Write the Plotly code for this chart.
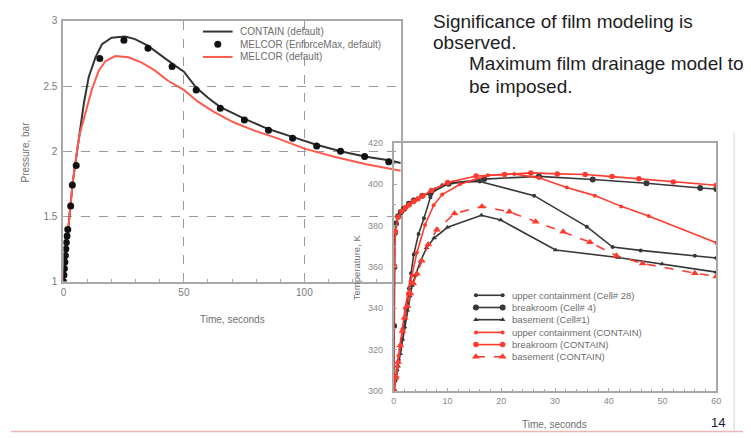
import plotly.graph_objects as go

# window is 751x438; the page body has an 8px margin, so the figure starts at window pixel (8, 8)
WIN_W, WIN_H = 751, 438
OFF = 8
W, H = WIN_W - OFF, WIN_H - OFF
Y_END = OFF + H

# ---------------- Left chart: pressure ----------------
t_contain = [0, 1, 2, 3, 4, 5, 6, 7, 8.5, 10.5, 13.3, 16, 20, 25.6, 29.7, 35, 40.7, 46, 50, 55, 60, 65,
             75, 85, 95, 105, 115, 125, 135, 140]
p_contain = [1.0, 1.22, 1.42, 1.6, 1.78, 1.92, 2.05, 2.18, 2.37, 2.57, 2.72, 2.82, 2.87, 2.88, 2.86, 2.81,
             2.73, 2.66, 2.61, 2.49, 2.41, 2.34, 2.25, 2.17, 2.11, 2.05, 2.00, 1.96, 1.93, 1.91]

t_enforce = [0, 0.2, 0.4, 0.6, 0.8, 1.0, 1.2, 1.5, 1.8, 3.0, 3.7, 5.3, 15.1, 25.1, 35.1, 45.1, 55.1,
             65.1, 75.1, 85.1, 95.1, 105.1, 115, 125, 135]
p_enforce = [1.0, 1.05, 1.1, 1.15, 1.2, 1.25, 1.3, 1.35, 1.4, 1.58, 1.74, 1.89, 2.71, 2.85, 2.79, 2.65,
             2.47, 2.33, 2.24, 2.16, 2.10, 2.04, 2.00, 1.96, 1.92]

t_melcor = [0, 1, 2, 3, 4, 5, 6, 7, 9.2, 11.9, 14.7, 17.4, 21.5, 27, 32.5, 37.9, 43.4, 50, 55.8, 62.6,
            70.8, 79, 88.6, 100, 112, 125.6, 140]
p_melcor = [1.0, 1.22, 1.42, 1.6, 1.78, 1.92, 2.05, 2.15, 2.30, 2.48, 2.62, 2.69, 2.73, 2.72, 2.68,
            2.62, 2.54, 2.47, 2.38, 2.30, 2.22, 2.16, 2.10, 2.02, 1.96, 1.90, 1.85]

p_xticks = [0, 50, 100]
p_yticks = [1, 1.5, 2, 2.5, 3]
p_yticklabels = ["1", "1.5", "2", "2.5", "3"]

# ---------------- Right chart: temperature ----------------
t_uc_cell = [0, 0.3, 0.6, 0.9, 1.2, 1.5, 1.8, 2.1, 2.5, 2.8, 3.2, 3.7, 4.6, 5.6, 6.8, 7.7, 9, 11, 16,
             26.1, 35.9, 40.7, 45.9, 56, 60]
T_uc_cell = [300, 305, 310, 315, 320, 325, 330, 335, 342, 349.6, 357, 366, 376, 383.5, 393.7, 397.6,
             399.5, 400.8, 401.3, 394.5, 379.5, 369.6, 368, 365.4, 364.3]

t_br_cell = [0, 0.05, 0.1, 0.2, 0.4, 0.8, 1.3, 1.9, 2.8, 3.7, 5.3, 6.8, 10.2, 16.8, 27, 37, 47, 57, 60]
T_br_cell = [300, 331.5, 360, 376.4, 381, 384.5, 386.6, 388.2, 390.6, 392.1, 394.5, 395.6, 400.3,
             402.5, 403.8, 402.3, 400.5, 398.2, 397.7]

t_bs_cell = [0, 0.4, 0.8, 1.2, 1.6, 2.0, 2.5, 3.0, 3.4, 4.0, 5.0, 6.1, 7.5, 10, 16.3, 19.9, 30.1,
             41.7, 49.9, 60]
T_bs_cell = [300, 306, 312, 318, 325, 331, 339, 346, 351, 356, 363, 369.3, 374, 379.2, 385, 382.7,
             368.2, 364.6, 361.4, 357.5]

t_uc_con = [0, 0.3, 0.6, 0.9, 1.2, 1.6, 2.1, 2.6, 3.1, 3.4, 4.3, 5.8, 7.4, 9, 12.3, 17.5, 22.4, 27,
            32.2, 37.4, 42.3, 47.4, 60]
T_uc_con = [300, 306, 312, 317, 322, 330, 340, 347, 352.8, 355.9, 367, 380.3, 389.8, 395, 400, 404.3,
            405, 403.1, 398.4, 394.5, 389.3, 384.6, 371.7]

t_br_con = [0, 0.05, 0.3, 0.8, 1.5, 2.2, 2.8, 3.7, 4.5, 5.4, 7, 10, 15.3, 20.6, 25.5, 30.4, 35.6,
            40.6, 45.6, 52, 60]
T_br_con = [300, 360.6, 377, 384, 387, 388.8, 390, 391.7, 393, 394.5, 397, 400.8, 404, 404.7, 405.5,
            405, 404.7, 403.7, 402.7, 401.1, 399.5]

t_bs_con = [0, 0.4, 0.8, 1.2, 1.6, 2.0, 2.5, 3.1, 3.6, 4.3, 5.2, 6.4, 8, 11.3, 16.4, 21.5, 26.4, 31.5,
            36.5, 41.4, 46.3, 56, 60]
T_bs_con = [300, 307, 314, 322, 329, 335.4, 341, 347.2, 352, 356.7, 363, 370.9, 378, 385.8, 389.3,
            386.7, 381.9, 377, 372, 365.4, 361.7, 357, 355.4]

T_xticks = [0, 10, 20, 30, 40, 50, 60]
T_yticks = [300, 320, 340, 360, 380, 400, 420]

left_legend = ["CONTAIN (default)", "MELCOR (EnforceMax, default)", "MELCOR (default)"]
right_legend = ["upper containment (Cell# 28)", "breakroom (Cell# 4)", "basement (Cell#1)",
                "upper containment (CONTAIN)", "breakroom (CONTAIN)", "basement (CONTAIN)"]

slide_lines = ["Significance of film modeling is", "observed.",
               "Maximum film drainage model to", "be imposed."]
page_number = "14"

# ---------------- styles ----------------
FONT = "Liberation Sans, Arial, sans-serif"
BLK = "#383838"
RED_L = "#ff5a4d"
RED = "#ff3b30"
GRAY_T = "#7a7a7a"
FRAME = "#a8a8a8"


def dx(px):
    return (px - OFF) / W


def dy(py):
    return 1 - (py - OFF) / H


fig = go.Figure()

# left chart traces
fig.add_trace(go.Scatter(x=t_contain, y=p_contain, mode="lines", line=dict(color="#333333", width=2),
                         xaxis="x", yaxis="y", showlegend=False))
fig.add_trace(go.Scatter(x=t_melcor, y=p_melcor, mode="lines", line=dict(color=RED_L, width=2),
                         xaxis="x", yaxis="y", showlegend=False))
fig.add_trace(go.Scatter(x=t_enforce, y=p_enforce, mode="markers",
                         marker=dict(color="#111111", size=7), xaxis="x", yaxis="y", showlegend=False))

# right chart traces
right_series = [
    (t_uc_cell, T_uc_cell, BLK, "circle", 4, "solid"),
    (t_br_cell, T_br_cell, BLK, "circle", 6, "solid"),
    (t_bs_cell, T_bs_cell, BLK, "triangle-up", 5, "solid"),
    (t_uc_con, T_uc_con, RED, "circle", 4, "solid"),
    (t_br_con, T_br_con, RED, "circle", 5.5, "solid"),
    (t_bs_con, T_bs_con, RED, "triangle-up", 7, "dash"),
]
for tx, ty, col, sym, sz, dash in right_series:
    fig.add_trace(go.Scatter(x=tx, y=ty, mode="lines+markers",
                             line=dict(color=col, width=1.6, dash=dash),
                             marker=dict(color=col, size=sz, symbol=sym),
                             xaxis="x2", yaxis="y2", showlegend=False))

# ---------------- legend glyphs (overlay pixel axis, window pixel coords) ----------------
lx0, lx1 = 202, 232
lys = [27, 40, 53]
fig.add_trace(go.Scatter(x=[lx0, lx1], y=[lys[0]] * 2, mode="lines", line=dict(color="#333333", width=2),
                         xaxis="x3", yaxis="y3", showlegend=False))
fig.add_trace(go.Scatter(x=[(lx0 + lx1) / 2], y=[lys[1]], mode="markers",
                         marker=dict(color="#111111", size=7), xaxis="x3", yaxis="y3", showlegend=False))
fig.add_trace(go.Scatter(x=[lx0, lx1], y=[lys[2]] * 2, mode="lines", line=dict(color=RED_L, width=2),
                         xaxis="x3", yaxis="y3", showlegend=False))

rx0, rx1 = 478, 505
rys = [297, 309.5, 322, 335, 347.5, 360]
for (tx, ty, col, sym, sz, dash), yy in zip(right_series, rys):
    fig.add_trace(go.Scatter(x=[rx0, rx1], y=[yy, yy], mode="lines+markers",
                             line=dict(color=col, width=1.6, dash=dash),
                             marker=dict(color=col, size=sz, symbol=sym),
                             xaxis="x3", yaxis="y3", showlegend=False))

annotations = []
for txt, yy in zip(left_legend, lys):
    annotations.append(dict(x=237, y=yy, xref="x3", yref="y3", text=txt, showarrow=False,
                            xanchor="left", yanchor="middle", font=dict(family=FONT, size=10, color="#6e6e6e")))
for txt, yy in zip(right_legend, rys):
    annotations.append(dict(x=512, y=yy, xref="x3", yref="y3", text=txt, showarrow=False,
                            xanchor="left", yanchor="middle", font=dict(family=FONT, size=9.5, color="#6e6e6e")))

# axis titles
annotations += [
    dict(x=23, y=150, xref="x3", yref="y3", text="Pressure, bar", textangle=-90, showarrow=False,
         font=dict(family=FONT, size=10, color="#707070")),
    dict(x=232, y=322, xref="x3", yref="y3", text="Time, seconds", showarrow=False,
         font=dict(family=FONT, size=10, color="#707070")),
    dict(x=358, y=268, xref="x3", yref="y3", text="Temperature, K", textangle=-90, showarrow=False,
         font=dict(family=FONT, size=9.5, color="#707070")),
    dict(x=557, y=429, xref="x3", yref="y3", text="Time, seconds", showarrow=False,
         font=dict(family=FONT, size=10, color="#707070")),
]

# slide text
slide_pos = [(433, 17), (433, 38), (469, 60), (469, 83)]
for txt, (xx, yy) in zip(slide_lines, slide_pos):
    annotations.append(dict(x=xx, y=yy, xref="x3", yref="y3", text=txt, showarrow=False,
                            xanchor="left", yanchor="middle", font=dict(family=FONT, size=19, color="#1e1e1e")))
annotations.append(dict(x=723, y=427, xref="x3", yref="y3", text=page_number, showarrow=False,
                        font=dict(family=FONT, size=13, color="#1c1c38")))

shapes = [
    dict(type="line", xref="x3", yref="y3", x0=739, x1=739, y0=130, y1=435,
         line=dict(color="#d6d6d6", width=1)),
    dict(type="line", xref="x3", yref="y3", x0=OFF, x1=WIN_W, y0=436.5, y1=436.5,
         line=dict(color="#e8b8b8", width=1.5)),
]

axis_common = dict(showline=True, mirror=True, linecolor=FRAME, linewidth=2, zeroline=False,
                   ticks="inside", tickcolor=FRAME, ticklen=3)

fig.update_layout(
    width=W, height=H, margin=dict(l=0, r=0, t=0, b=0),
    paper_bgcolor="white", plot_bgcolor="rgba(0,0,0,0)",
    showlegend=False,
    xaxis=dict(domain=[dx(61), dx(402)], range=[0, 140], anchor="y",
               tickvals=p_xticks, showgrid=True, gridcolor="#9a9a9a", griddash="dash", gridwidth=1,
               tickfont=dict(family=FONT, size=10, color=GRAY_T),
               minor=dict(dtick=10, ticks="inside", ticklen=3, tickcolor=FRAME), **axis_common),
    yaxis=dict(domain=[dy(283), dy(16)], range=[1, 3], anchor="x",
               tickvals=p_yticks, ticktext=p_yticklabels, showgrid=True, gridcolor="#9a9a9a",
               griddash="dash", gridwidth=1, ticklabelstandoff=2,
               tickfont=dict(family=FONT, size=10, color=GRAY_T), **axis_common),
    xaxis2=dict(domain=[dx(395), dx(721)], range=[0, 60], anchor="y2",
                tickvals=T_xticks, showgrid=False,
                tickfont=dict(family=FONT, size=9, color="#8a8a8a"),
                minor=dict(dtick=2, ticks="inside", ticklen=2, tickcolor=FRAME), **axis_common),
    yaxis2=dict(domain=[dy(395), dy(141)], range=[300, 420], anchor="x2",
                tickvals=T_yticks, showgrid=False, ticklabelstandoff=7,
                tickfont=dict(family=FONT, size=9, color="#8a8a8a"),
                minor=dict(dtick=10, ticks="inside", ticklen=2, tickcolor=FRAME), **axis_common),
    xaxis3=dict(domain=[0, 1], range=[OFF, WIN_W], anchor="y3", visible=False, fixedrange=True),
    yaxis3=dict(domain=[0, 1], range=[Y_END, OFF], anchor="x3", visible=False, fixedrange=True),
    annotations=annotations,
    shapes=shapes,
)

fig.write_html("out.html")
